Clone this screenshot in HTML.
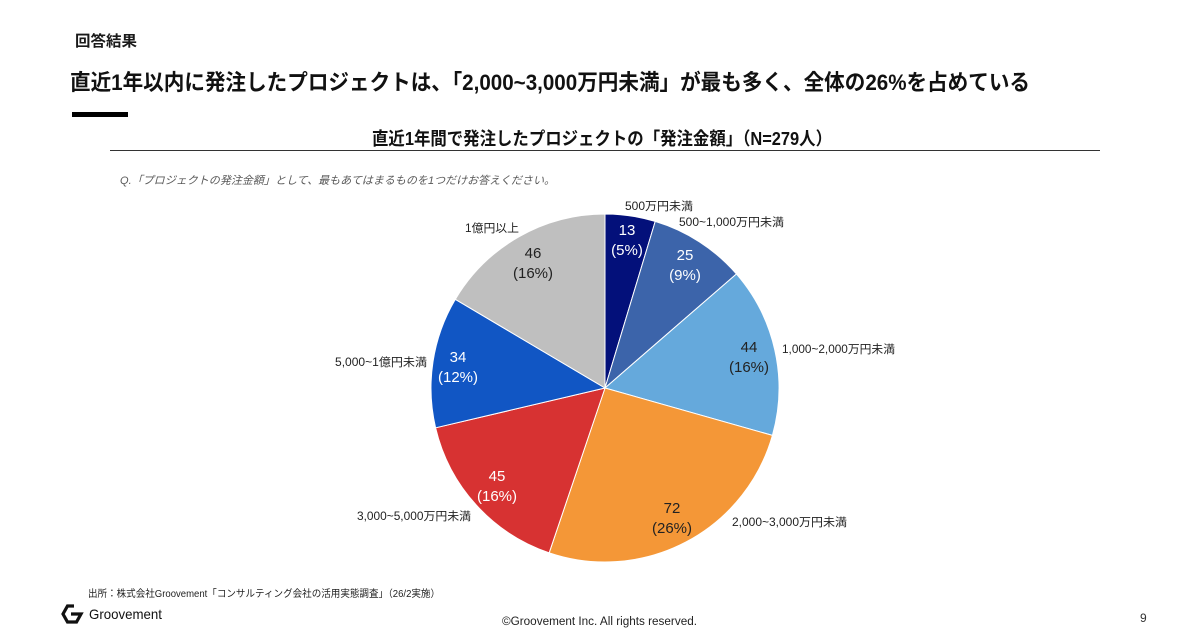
<!DOCTYPE html>
<html>
<head>
<meta charset="utf-8">
<style>
  html, body { margin:0; padding:0; background:#ffffff; }
  body { width:1200px; height:630px; overflow:hidden; }
  svg { display:block; }
  text { font-family: "Liberation Sans", "Noto Sans CJK JP", sans-serif; }
</style>
</head>
<body>
<svg width="1200" height="630" viewBox="0 0 1200 630" xmlns="http://www.w3.org/2000/svg">
  <rect x="0" y="0" width="1200" height="630" fill="#ffffff"/>

  <!-- Header -->
  <text x="75" y="46" font-size="15" font-weight="bold" fill="#1a1a1a" textLength="62" lengthAdjust="spacingAndGlyphs">回答結果</text>
  <text x="70" y="90" font-size="22" font-weight="bold" fill="#111" textLength="960" lengthAdjust="spacingAndGlyphs">直近1年以内に発注したプロジェクトは、「2,000~3,000万円未満」が最も多く、全体の26%を占めている</text>
  <rect x="72" y="112" width="56" height="5" fill="#000"/>

  <!-- Chart title -->
  <text x="372" y="145" font-size="18" font-weight="bold" fill="#111" textLength="460" lengthAdjust="spacingAndGlyphs">直近1年間で発注したプロジェクトの「発注金額」（N=279人）</text>
  <line x1="110" y1="150.5" x2="1100" y2="150.5" stroke="#333" stroke-width="1"/>

  <text x="120" y="184" font-size="11" font-style="italic" fill="#595959" textLength="435" lengthAdjust="spacingAndGlyphs">Q.「プロジェクトの発注金額」として、最もあてはまるものを1つだけお答えください。</text>

  <!-- Pie -->
  <g stroke="#ffffff" stroke-width="1" stroke-linejoin="round">
    <path d="M605,388 L605,214 A174,174 0 0 1 655.22,221.41 Z" fill="#03107a"/>
    <path d="M605,388 L655.22,221.41 A174,174 0 0 1 736.41,273.95 Z" fill="#3c64aa"/>
    <path d="M605,388 L736.41,273.95 A174,174 0 0 1 772.42,435.39 Z" fill="#65a9dc"/>
    <path d="M605,388 L772.42,435.39 A174,174 0 0 1 549.18,552.80 Z" fill="#f49737"/>
    <path d="M605,388 L549.18,552.80 A174,174 0 0 1 435.61,427.81 Z" fill="#d73232"/>
    <path d="M605,388 L435.61,427.81 A174,174 0 0 1 455.30,299.32 Z" fill="#1156c4"/>
    <path d="M605,388 L455.30,299.32 A174,174 0 0 1 605,214 Z" fill="#bfbfbf"/>
  </g>

  <!-- Data labels -->
  <g font-size="15" text-anchor="middle">
    <text x="627" y="235" fill="#ffffff">13</text>
    <text x="627" y="255" fill="#ffffff">(5%)</text>
    <text x="685" y="260" fill="#ffffff">25</text>
    <text x="685" y="280" fill="#ffffff">(9%)</text>
    <text x="749" y="352" fill="#222">44</text>
    <text x="749" y="372" fill="#222">(16%)</text>
    <text x="672" y="513" fill="#222">72</text>
    <text x="672" y="533" fill="#222">(26%)</text>
    <text x="497" y="481" fill="#ffffff">45</text>
    <text x="497" y="501" fill="#ffffff">(16%)</text>
    <text x="458" y="362" fill="#ffffff">34</text>
    <text x="458" y="382" fill="#ffffff">(12%)</text>
    <text x="533" y="258" fill="#222">46</text>
    <text x="533" y="278" fill="#222">(16%)</text>
  </g>

  <!-- Category labels -->
  <g font-size="11.5" fill="#222">
    <text x="625" y="210" textLength="68" lengthAdjust="spacingAndGlyphs">500万円未満</text>
    <text x="679" y="226" textLength="105" lengthAdjust="spacingAndGlyphs">500~1,000万円未満</text>
    <text x="782" y="353" textLength="113" lengthAdjust="spacingAndGlyphs">1,000~2,000万円未満</text>
    <text x="732" y="526" textLength="115" lengthAdjust="spacingAndGlyphs">2,000~3,000万円未満</text>
    <text x="357" y="520" textLength="114" lengthAdjust="spacingAndGlyphs">3,000~5,000万円未満</text>
    <text x="335" y="366" textLength="92" lengthAdjust="spacingAndGlyphs">5,000~1億円未満</text>
    <text x="465" y="232" textLength="54" lengthAdjust="spacingAndGlyphs">1億円以上</text>
  </g>

  <!-- Footer -->
  <text x="88" y="597" font-size="10" fill="#222" textLength="352" lengthAdjust="spacingAndGlyphs">出所：株式会社Groovement「コンサルティング会社の活用実態調査」（26/2実施）</text>

  <!-- Logo: hexagon-outline G -->
  <path d="M74,606 L67.5,606 L63,614 L67.5,622 L76.5,622 L81,614 L71,614" fill="none" stroke="#111" stroke-width="3.2" stroke-linejoin="miter"/>
  <text x="89" y="619" font-size="14" fill="#111" textLength="73" lengthAdjust="spacingAndGlyphs">Groovement</text>

  <text x="502" y="625" font-size="11.5" fill="#222" textLength="195" lengthAdjust="spacingAndGlyphs">©Groovement Inc. All rights reserved.</text>
  <text x="1140" y="622" font-size="12" fill="#333">9</text>
</svg>
</body>
</html>
